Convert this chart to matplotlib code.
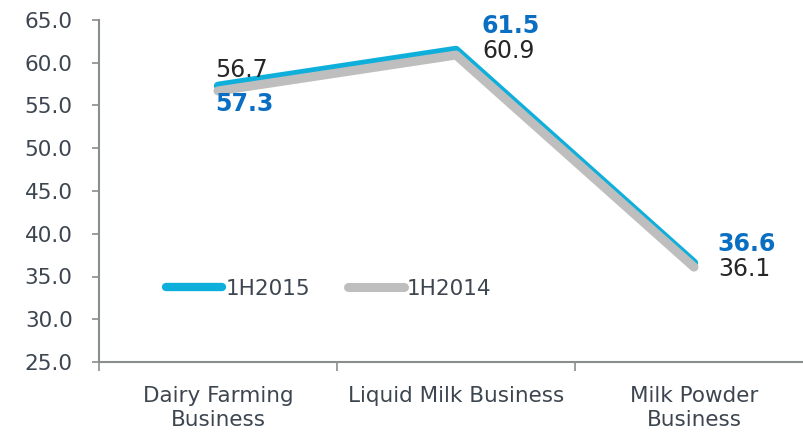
import matplotlib
matplotlib.use("Agg")
from matplotlib import pyplot as plt

plt.rcParams['font.family'] = ['DejaVu Sans']

categories = ["Dairy Farming\nBusiness", "Liquid Milk Business", "Milk Powder\nBusiness"]
h2015 = [57.3, 61.5, 36.6]
h2014 = [56.7, 60.9, 36.1]
yticks = [25, 30, 35, 40, 45, 50, 55, 60, 65]

blue_line = "#0FAFDB"
blue_text = "#0A6FC2"
grey_line = "#BEBEBE"
text_col = "#3D4650"
axis_col = "#8A8C8E"

# label offsets in pixels (dx, dy), baseline anchored
off2015 = [(-3, -25), (26, 17), (23, 12)]
off2014 = [(-3, 14), (26, -3), (24, -9)]

fig = plt.figure(figsize=(8.04, 4.32), dpi=100)
W, H = 804, 432
ax = fig.add_axes([99 / W, 1 - 362 / H, 714 / W, 342 / H])

x = list(range(len(categories)))
ax.plot(x, h2015, color=blue_line, lw=6.0, solid_capstyle='round',
        solid_joinstyle='round', label="1H2015", zorder=2)
ax.plot(x, h2014, color=grey_line, lw=6.5, solid_capstyle='round',
        solid_joinstyle='round', label="1H2014", zorder=3)

for i in x:
    ax.annotate(f"{h2015[i]:.1f}", (i, h2015[i]), xytext=off2015[i],
                textcoords='offset pixels', ha='left', va='baseline',
                fontsize=17, fontweight='bold', color=blue_text, zorder=5)
    ax.annotate(f"{h2014[i]:.1f}", (i, h2014[i]), xytext=off2014[i],
                textcoords='offset pixels', ha='left', va='baseline',
                fontsize=17, color="#262626", zorder=4)

ax.set_xlim(-0.5, 2.5)
ax.set_ylim(25, 65)
ax.set_yticks(yticks)
ax.set_yticklabels([f"{v:.1f}" for v in yticks])
ax.set_xticks(x)
ax.set_xticklabels(categories, linespacing=1.3)
ax.set_xticks([-0.5, 0.5, 1.5], minor=True)

for s in ['top', 'right']:
    ax.spines[s].set_visible(False)
for s in ['left', 'bottom']:
    ax.spines[s].set_color(axis_col)
    ax.spines[s].set_linewidth(1.5)

ax.tick_params(axis='y', colors=axis_col, labelcolor=text_col, labelsize=15.5,
               length=5, width=1.2, pad=14)
ax.tick_params(axis='x', which='major', length=0, labelcolor=text_col,
               labelsize=15.5, pad=17)
ax.tick_params(axis='x', which='minor', colors=axis_col, length=6.5, width=1.2)
ax.spines['left'].set_bounds(25, 65)

leg = ax.legend(loc='upper left', bbox_to_anchor=(0.067, 0.30), ncol=2,
                frameon=False, fontsize=15.5, handlelength=2.6,
                handletextpad=0.15, columnspacing=1.75, labelcolor=text_col)

fig.savefig("out.png", dpi=100)
